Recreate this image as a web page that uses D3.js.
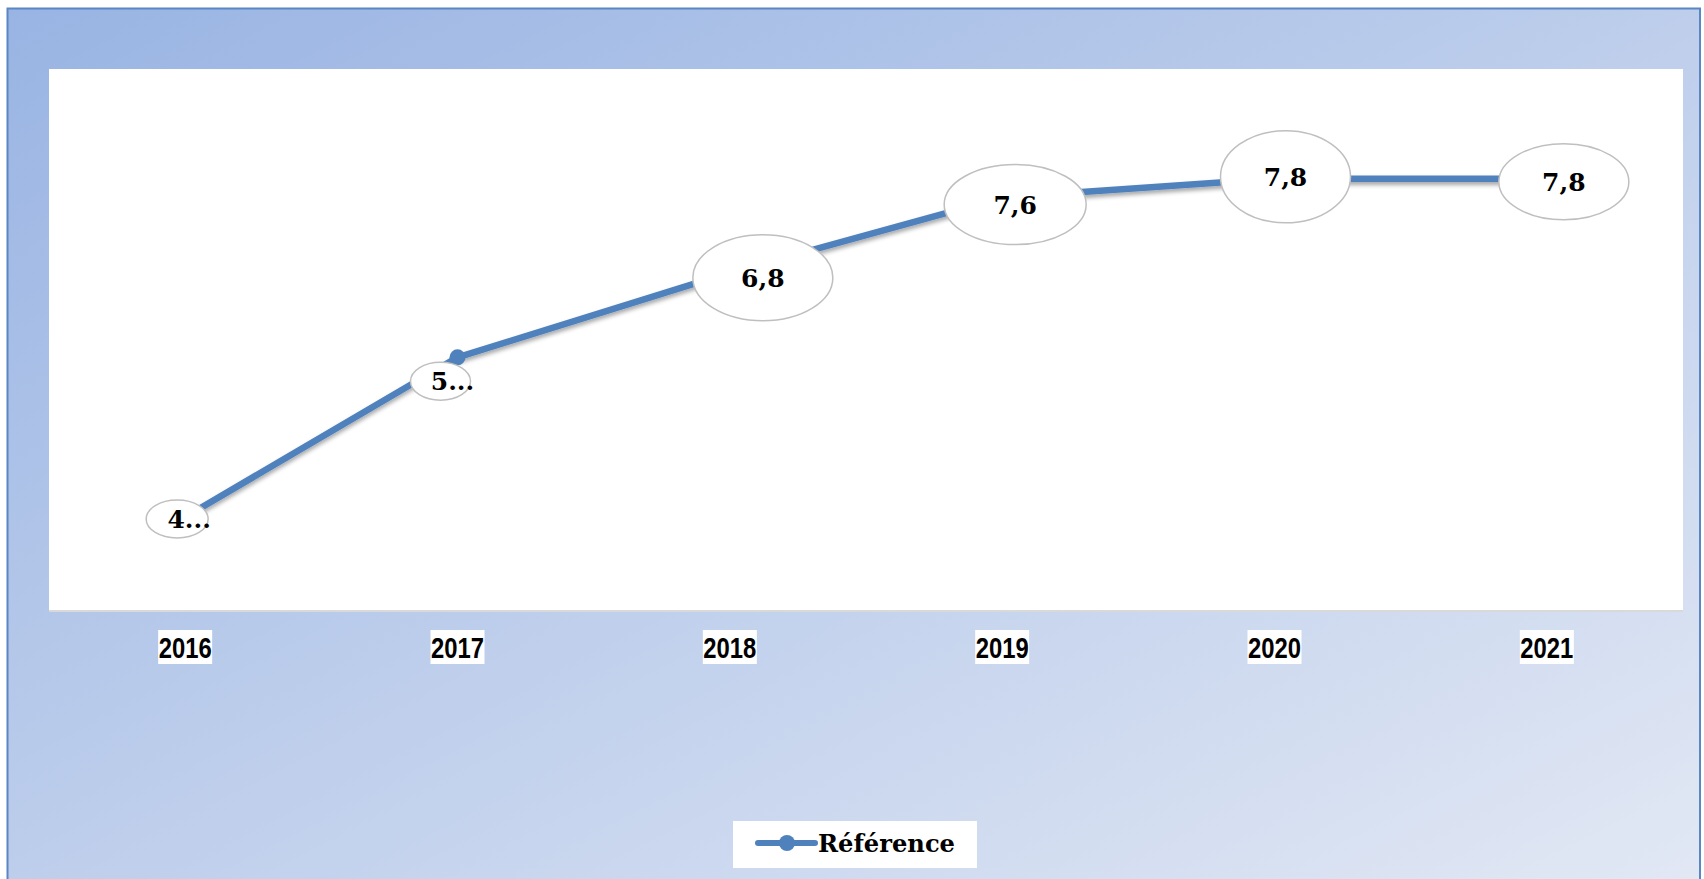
<!DOCTYPE html>
<html>
<head>
<meta charset="utf-8">
<script src="https://cdn.jsdelivr.net/npm/d3@7"></script>
<style>
  html, body { margin: 0; padding: 0; background: #fff; }
  svg { display: block; }
</style>
</head>
<body>
<script>
// data
const years = ['2016', '2017', '2018', '2019', '2020', '2021'];
const values = [4.2, 5.9, 6.8, 7.6, 7.8, 7.8];
const labels = ['4...', '5...', '6,8', '7,6', '7,8', '7,8'];
const seriesName = 'Référence';

// label bubble layout (offset from point, radii)
const bubbles = [
  { dx: -8, dy: 2, rx: 31, ry: 19 },
  { dx: -17, dy: 24, rx: 30, ry: 19 },
  { dx: 33, dy: 5, rx: 70, ry: 43 },
  { dx: 13, dy: 7, rx: 71, ry: 40 },
  { dx: 11, dy: -2, rx: 65, ry: 46 },
  { dx: 17, dy: 3, rx: 65, ry: 38 }
];

const W = 1704, H = 879;
const plot = { left: 49, right: 1683, top: 69, bottom: 611 };
const blue = '#4f81bd';
const serif = "'DejaVu Serif', serif";

const svg = d3.select('body').append('svg')
  .attr('width', W)
  .attr('height', H);

const defs = svg.append('defs');
const grad = defs.append('linearGradient')
  .attr('id', 'bg')
  .attr('x1', '0%').attr('y1', '0%')
  .attr('x2', '100%').attr('y2', '100%');
grad.append('stop').attr('offset', '0%').attr('stop-color', '#99b4e3');
grad.append('stop').attr('offset', '100%').attr('stop-color', '#e2e8f4');

const shadow = defs.append('filter')
  .attr('id', 'shadow')
  .attr('x', '-10%').attr('y', '-50%')
  .attr('width', '120%').attr('height', '200%');
shadow.append('feDropShadow')
  .attr('dx', 0).attr('dy', 3)
  .attr('stdDeviation', 2)
  .attr('flood-color', '#000')
  .attr('flood-opacity', 0.35);

// chart background + border
svg.append('rect')
  .attr('x', 7.5).attr('y', 8.5)
  .attr('width', 1700 - 7.5).attr('height', H)
  .attr('fill', 'url(#bg)')
  .attr('stroke', '#5b86c4')
  .attr('stroke-width', 2);

// plot area
svg.append('rect')
  .attr('x', plot.left).attr('y', plot.top)
  .attr('width', plot.right - plot.left)
  .attr('height', plot.bottom - plot.top)
  .attr('fill', '#fff');

svg.append('line')
  .attr('x1', plot.left).attr('x2', plot.right)
  .attr('y1', plot.bottom).attr('y2', plot.bottom)
  .attr('stroke', '#d9d9d9')
  .attr('stroke-width', 2);

const x = d3.scaleBand().domain(years).range([plot.left, plot.right]);
const y = d3.scaleLinear().domain([3.2, 9]).range([plot.bottom, 66]);
const cx = d => x(d) + x.bandwidth() / 2;

const points = years.map((yr, i) => ({ yr, v: values[i], label: labels[i], b: bubbles[i] }));

// x axis labels with white boxes
const xAxis = svg.append('g')
  .attr('transform', `translate(0, ${plot.bottom})`)
  .call(d3.axisBottom(x).tickSize(0).tickPadding(0));
xAxis.select('.domain').remove();
xAxis.selectAll('.tick text')
  .attr('y', 47)
  .attr('dy', null)
  .attr('font-family', "'Liberation Sans', Arial, sans-serif")
  .attr('font-weight', 'bold')
  .attr('font-size', 30)
  .attr('textLength', 53)
  .attr('lengthAdjust', 'spacingAndGlyphs')
  .attr('fill', '#000');
xAxis.selectAll('.tick').each(function () {
  d3.select(this).insert('rect', 'text')
    .attr('x', -27).attr('y', 19)
    .attr('width', 54).attr('height', 34)
    .attr('fill', '#fff');
});

// line
const line = d3.line()
  .x(d => cx(d.yr))
  .y(d => y(d.v));

svg.append('path')
  .datum(points)
  .attr('fill', 'none')
  .attr('stroke', blue)
  .attr('stroke-width', 6.5)
  .attr('stroke-linejoin', 'round')
  .attr('filter', 'url(#shadow)')
  .attr('d', line);

svg.selectAll('circle.marker')
  .data(points)
  .join('circle')
  .attr('class', 'marker')
  .attr('cx', d => cx(d.yr))
  .attr('cy', d => y(d.v))
  .attr('r', 8)
  .attr('fill', blue);

// data label bubbles
const lab = svg.selectAll('g.lab')
  .data(points)
  .join('g')
  .attr('class', 'lab')
  .attr('transform', d => `translate(${cx(d.yr) + d.b.dx}, ${y(d.v) + d.b.dy})`);

lab.append('ellipse')
  .attr('rx', d => d.b.rx)
  .attr('ry', d => d.b.ry)
  .attr('fill', '#fff')
  .attr('stroke', '#bfbfbf')
  .attr('stroke-width', 1.5);

lab.append('text')
  .attr('x', d => d.label.endsWith('...') ? 12 : 0)
  .attr('y', 9)
  .attr('text-anchor', 'middle')
  .attr('font-family', serif)
  .attr('font-weight', 'bold')
  .attr('font-size', 25)
  .attr('fill', '#000')
  .text(d => d.label);

// legend
const lg = svg.append('g').attr('transform', 'translate(733, 821)');
lg.append('rect')
  .attr('width', 244).attr('height', 47)
  .attr('fill', '#fff');
lg.append('line')
  .attr('x1', 25).attr('x2', 82)
  .attr('y1', 22).attr('y2', 22)
  .attr('stroke', blue)
  .attr('stroke-width', 6)
  .attr('stroke-linecap', 'round');
lg.append('circle')
  .attr('cx', 54).attr('cy', 22).attr('r', 8)
  .attr('fill', blue);
lg.append('text')
  .attr('x', 85).attr('y', 31)
  .attr('font-family', serif)
  .attr('font-weight', 'bold')
  .attr('font-size', 24)
  .attr('textLength', 137)
  .attr('lengthAdjust', 'spacingAndGlyphs')
  .attr('fill', '#000')
  .text(seriesName);
</script>
</body>
</html>
